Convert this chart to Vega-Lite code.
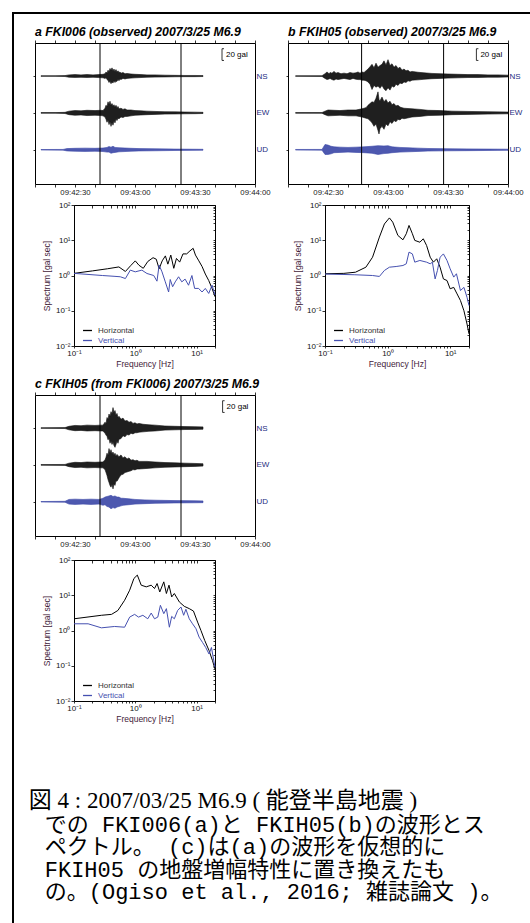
{
"$schema": "https://vega.github.io/schema/vega-lite/v6.json",
"padding": {"left": 10, "top": 10, "right": 0, "bottom": 0},
"background": "white",
"config": {
 "view": {"stroke": null},
 "axis": {"domainColor": "#000", "tickColor": "#000", "labelColor": "#111", "grid": false, "labelFont": "Liberation Sans", "titleFont": "Liberation Sans", "domainWidth": 1, "tickWidth": 0.8},
 "title": {"font": "Liberation Sans", "color": "#000"},
 "legend": {"labelFont": "Liberation Sans"}
},
"datasets": {
 "wave": [
 {"p":"a","c":"NS","t":13,"h":0.5,"l":-0.5},{"p":"a","c":"NS","t":20,"h":0.5,"l":-0.5},{"p":"a","c":"NS","t":25,"h":0.8,"l":-0.8},{"p":"a","c":"NS","t":27,"h":2,"l":-2},{"p":"a","c":"NS","t":30,"h":2.5,"l":-2.3},{"p":"a","c":"NS","t":33,"h":2,"l":-2.2},{"p":"a","c":"NS","t":36,"h":2.6,"l":-2.4},{"p":"a","c":"NS","t":39,"h":2,"l":-2.1},{"p":"a","c":"NS","t":42,"h":2.5,"l":-2.6},{"p":"a","c":"NS","t":44,"h":3,"l":-3},{"p":"a","c":"NS","t":45,"h":4,"l":-4},{"p":"a","c":"NS","t":45.5,"h":7,"l":-3},{"p":"a","c":"NS","t":46,"h":5,"l":-6},{"p":"a","c":"NS","t":46.5,"h":10,"l":-7},{"p":"a","c":"NS","t":47,"h":8,"l":-11},{"p":"a","c":"NS","t":47.5,"h":13,"l":-9},{"p":"a","c":"NS","t":48,"h":10,"l":-13},{"p":"a","c":"NS","t":48.5,"h":14,"l":-10},{"p":"a","c":"NS","t":49,"h":9,"l":-12},{"p":"a","c":"NS","t":49.5,"h":12,"l":-8},{"p":"a","c":"NS","t":50,"h":8,"l":-11},{"p":"a","c":"NS","t":50.5,"h":11,"l":-9},{"p":"a","c":"NS","t":51,"h":7,"l":-9},{"p":"a","c":"NS","t":51.5,"h":9,"l":-6},{"p":"a","c":"NS","t":52,"h":6,"l":-8},{"p":"a","c":"NS","t":52.5,"h":7,"l":-5},{"p":"a","c":"NS","t":53,"h":5,"l":-6},{"p":"a","c":"NS","t":54,"h":6,"l":-4},{"p":"a","c":"NS","t":55,"h":4,"l":-5},{"p":"a","c":"NS","t":56,"h":4.5,"l":-4},{"p":"a","c":"NS","t":58,"h":3.5,"l":-3.5},{"p":"a","c":"NS","t":60,"h":3,"l":-3},{"p":"a","c":"NS","t":63,"h":2.5,"l":-2.5},{"p":"a","c":"NS","t":66,"h":2,"l":-2},{"p":"a","c":"NS","t":70,"h":2,"l":-1.8},{"p":"a","c":"NS","t":75,"h":1.5,"l":-1.5},{"p":"a","c":"NS","t":80,"h":1.2,"l":-1.2},{"p":"a","c":"NS","t":85,"h":1,"l":-1},{"p":"a","c":"NS","t":90,"h":1,"l":-1},{"p":"a","c":"NS","t":94,"h":0.8,"l":-0.8},
 {"p":"a","c":"EW","t":13,"h":-62.5,"l":-63.5},{"p":"a","c":"EW","t":20,"h":-62.5,"l":-63.5},{"p":"a","c":"EW","t":25,"h":-62,"l":-64},{"p":"a","c":"EW","t":27,"h":-60,"l":-66},{"p":"a","c":"EW","t":30,"h":-59,"l":-67},{"p":"a","c":"EW","t":33,"h":-59.5,"l":-66.5},{"p":"a","c":"EW","t":36,"h":-58.5,"l":-67.5},{"p":"a","c":"EW","t":40,"h":-59,"l":-67},{"p":"a","c":"EW","t":43,"h":-58.5,"l":-67.5},{"p":"a","c":"EW","t":44,"h":-59,"l":-68},{"p":"a","c":"EW","t":45,"h":-55,"l":-70},{"p":"a","c":"EW","t":45.5,"h":-50,"l":-74},{"p":"a","c":"EW","t":46,"h":-52,"l":-79},{"p":"a","c":"EW","t":46.5,"h":-44,"l":-75},{"p":"a","c":"EW","t":47,"h":-48,"l":-83},{"p":"a","c":"EW","t":47.5,"h":-43,"l":-78},{"p":"a","c":"EW","t":48,"h":-50,"l":-86},{"p":"a","c":"EW","t":48.5,"h":-47,"l":-80},{"p":"a","c":"EW","t":49,"h":-51,"l":-84},{"p":"a","c":"EW","t":49.5,"h":-49,"l":-77},{"p":"a","c":"EW","t":50,"h":-53,"l":-80},{"p":"a","c":"EW","t":50.5,"h":-50,"l":-74},{"p":"a","c":"EW","t":51,"h":-54,"l":-76},{"p":"a","c":"EW","t":51.5,"h":-52,"l":-72},{"p":"a","c":"EW","t":52,"h":-56,"l":-73},{"p":"a","c":"EW","t":53,"h":-55,"l":-70},{"p":"a","c":"EW","t":54,"h":-57,"l":-71},{"p":"a","c":"EW","t":55,"h":-56,"l":-69},{"p":"a","c":"EW","t":56,"h":-58,"l":-69},{"p":"a","c":"EW","t":58,"h":-58,"l":-68},{"p":"a","c":"EW","t":60,"h":-59,"l":-67},{"p":"a","c":"EW","t":63,"h":-59.5,"l":-66.5},{"p":"a","c":"EW","t":66,"h":-60,"l":-66},{"p":"a","c":"EW","t":70,"h":-60.5,"l":-65.5},{"p":"a","c":"EW","t":75,"h":-61,"l":-65},{"p":"a","c":"EW","t":80,"h":-61.2,"l":-64.8},{"p":"a","c":"EW","t":85,"h":-61.5,"l":-64.5},{"p":"a","c":"EW","t":90,"h":-61.7,"l":-64.3},{"p":"a","c":"EW","t":94,"h":-62,"l":-64},
 {"p":"a","c":"UD","t":13,"h":-125.6,"l":-126.4},{"p":"a","c":"UD","t":24,"h":-125.4,"l":-126.6},{"p":"a","c":"UD","t":26,"h":-124,"l":-128},{"p":"a","c":"UD","t":30,"h":-123.5,"l":-128.5},{"p":"a","c":"UD","t":35,"h":-123.2,"l":-128.8},{"p":"a","c":"UD","t":40,"h":-123.5,"l":-128.5},{"p":"a","c":"UD","t":44,"h":-123,"l":-129},{"p":"a","c":"UD","t":46,"h":-122,"l":-130},{"p":"a","c":"UD","t":47,"h":-120.5,"l":-130},{"p":"a","c":"UD","t":48,"h":-121.5,"l":-132},{"p":"a","c":"UD","t":49,"h":-120,"l":-131},{"p":"a","c":"UD","t":50,"h":-122,"l":-130.5},{"p":"a","c":"UD","t":52,"h":-122.5,"l":-129.5},{"p":"a","c":"UD","t":55,"h":-123,"l":-129},{"p":"a","c":"UD","t":58,"h":-123.5,"l":-128.5},{"p":"a","c":"UD","t":62,"h":-124,"l":-128},{"p":"a","c":"UD","t":70,"h":-124.3,"l":-127.7},{"p":"a","c":"UD","t":80,"h":-124.8,"l":-127.2},{"p":"a","c":"UD","t":94,"h":-125.2,"l":-126.8},
 {"p":"b","c":"NS","t":13.8,"h":0.5,"l":-0.5},{"p":"b","c":"NS","t":27,"h":0.6,"l":-0.6},{"p":"b","c":"NS","t":28.5,"h":4,"l":-4},{"p":"b","c":"NS","t":29.5,"h":7,"l":-6},{"p":"b","c":"NS","t":30.5,"h":4,"l":-5},{"p":"b","c":"NS","t":31,"h":6,"l":-4},{"p":"b","c":"NS","t":32,"h":5,"l":-6},{"p":"b","c":"NS","t":33,"h":8,"l":-7},{"p":"b","c":"NS","t":34,"h":5,"l":-5},{"p":"b","c":"NS","t":35,"h":6,"l":-6},{"p":"b","c":"NS","t":36.5,"h":4,"l":-5},{"p":"b","c":"NS","t":38,"h":5,"l":-4},{"p":"b","c":"NS","t":39.5,"h":4,"l":-5},{"p":"b","c":"NS","t":41,"h":6,"l":-6},{"p":"b","c":"NS","t":42.5,"h":5,"l":-4},{"p":"b","c":"NS","t":44,"h":5.5,"l":-5.5},{"p":"b","c":"NS","t":45,"h":7,"l":-6},{"p":"b","c":"NS","t":46,"h":5,"l":-6},{"p":"b","c":"NS","t":47,"h":7,"l":-7},{"p":"b","c":"NS","t":48,"h":6,"l":-7},{"p":"b","c":"NS","t":49,"h":9,"l":-8},{"p":"b","c":"NS","t":50,"h":12,"l":-10},{"p":"b","c":"NS","t":51,"h":16,"l":-14},{"p":"b","c":"NS","t":52,"h":20,"l":-23},{"p":"b","c":"NS","t":53,"h":14,"l":-16},{"p":"b","c":"NS","t":54,"h":22,"l":-19},{"p":"b","c":"NS","t":55,"h":15,"l":-17},{"p":"b","c":"NS","t":56,"h":18,"l":-21},{"p":"b","c":"NS","t":57,"h":20,"l":-16},{"p":"b","c":"NS","t":58,"h":26,"l":-22},{"p":"b","c":"NS","t":59,"h":19,"l":-25},{"p":"b","c":"NS","t":60,"h":28,"l":-20},{"p":"b","c":"NS","t":61,"h":18,"l":-24},{"p":"b","c":"NS","t":62,"h":21,"l":-17},{"p":"b","c":"NS","t":63,"h":15,"l":-19},{"p":"b","c":"NS","t":64,"h":18,"l":-14},{"p":"b","c":"NS","t":65,"h":13,"l":-16},{"p":"b","c":"NS","t":66,"h":15,"l":-12},{"p":"b","c":"NS","t":67,"h":10,"l":-13},{"p":"b","c":"NS","t":68,"h":12,"l":-10},{"p":"b","c":"NS","t":69,"h":9,"l":-11},{"p":"b","c":"NS","t":70,"h":10,"l":-8},{"p":"b","c":"NS","t":71,"h":7,"l":-9},{"p":"b","c":"NS","t":72,"h":8,"l":-7},{"p":"b","c":"NS","t":75,"h":6.5,"l":-6.5},{"p":"b","c":"NS","t":78,"h":5.5,"l":-5.5},{"p":"b","c":"NS","t":82,"h":4.5,"l":-4.5},{"p":"b","c":"NS","t":86,"h":4,"l":-4},{"p":"b","c":"NS","t":90,"h":3.5,"l":-3.5},{"p":"b","c":"NS","t":95,"h":3,"l":-3},{"p":"b","c":"NS","t":100,"h":2.5,"l":-2.5},{"p":"b","c":"NS","t":105,"h":2.5,"l":-2.5},{"p":"b","c":"NS","t":110,"h":2,"l":-2},{"p":"b","c":"NS","t":115,"h":2,"l":-2},{"p":"b","c":"NS","t":120,"h":1.5,"l":-1.5},
 {"p":"b","c":"EW","t":13.8,"h":-62.5,"l":-63.5},{"p":"b","c":"EW","t":27,"h":-62.4,"l":-63.6},{"p":"b","c":"EW","t":28.5,"h":-60,"l":-66},{"p":"b","c":"EW","t":30,"h":-58,"l":-68},{"p":"b","c":"EW","t":33,"h":-58.5,"l":-67.5},{"p":"b","c":"EW","t":36,"h":-59,"l":-67},{"p":"b","c":"EW","t":40,"h":-58,"l":-68},{"p":"b","c":"EW","t":44,"h":-58,"l":-68},{"p":"b","c":"EW","t":47,"h":-56,"l":-70},{"p":"b","c":"EW","t":49,"h":-54,"l":-72},{"p":"b","c":"EW","t":50,"h":-50,"l":-73},{"p":"b","c":"EW","t":51,"h":-47,"l":-76},{"p":"b","c":"EW","t":52,"h":-44,"l":-80},{"p":"b","c":"EW","t":53,"h":-45,"l":-86},{"p":"b","c":"EW","t":54,"h":-38,"l":-82},{"p":"b","c":"EW","t":55,"h":-27,"l":-93},{"p":"b","c":"EW","t":55.5,"h":-40,"l":-99},{"p":"b","c":"EW","t":56,"h":-42,"l":-90},{"p":"b","c":"EW","t":57,"h":-36,"l":-86},{"p":"b","c":"EW","t":58,"h":-44,"l":-91},{"p":"b","c":"EW","t":59,"h":-40,"l":-82},{"p":"b","c":"EW","t":60,"h":-46,"l":-85},{"p":"b","c":"EW","t":61,"h":-43,"l":-78},{"p":"b","c":"EW","t":62,"h":-49,"l":-81},{"p":"b","c":"EW","t":63,"h":-47,"l":-76},{"p":"b","c":"EW","t":64,"h":-51,"l":-78},{"p":"b","c":"EW","t":65,"h":-50,"l":-74},{"p":"b","c":"EW","t":66,"h":-53,"l":-75},{"p":"b","c":"EW","t":67,"h":-54,"l":-72},{"p":"b","c":"EW","t":68,"h":-55,"l":-73},{"p":"b","c":"EW","t":72,"h":-56,"l":-70},{"p":"b","c":"EW","t":76,"h":-57,"l":-69},{"p":"b","c":"EW","t":80,"h":-58.5,"l":-67.5},{"p":"b","c":"EW","t":86,"h":-59,"l":-67},{"p":"b","c":"EW","t":92,"h":-60,"l":-66},{"p":"b","c":"EW","t":100,"h":-60.5,"l":-65.5},{"p":"b","c":"EW","t":110,"h":-61,"l":-65},{"p":"b","c":"EW","t":120,"h":-61.5,"l":-64.5},
 {"p":"b","c":"UD","t":13.8,"h":-125.5,"l":-126.5},{"p":"b","c":"UD","t":27,"h":-125.4,"l":-126.6},{"p":"b","c":"UD","t":28.5,"h":-117,"l":-134},{"p":"b","c":"UD","t":30,"h":-118,"l":-134},{"p":"b","c":"UD","t":31.5,"h":-120,"l":-133},{"p":"b","c":"UD","t":33,"h":-121,"l":-131},{"p":"b","c":"UD","t":36,"h":-121.5,"l":-130.5},{"p":"b","c":"UD","t":40,"h":-122,"l":-130},{"p":"b","c":"UD","t":44,"h":-121.5,"l":-130.5},{"p":"b","c":"UD","t":48,"h":-121,"l":-131},{"p":"b","c":"UD","t":52,"h":-120,"l":-132},{"p":"b","c":"UD","t":55,"h":-119,"l":-134},{"p":"b","c":"UD","t":58,"h":-119.5,"l":-132.5},{"p":"b","c":"UD","t":60,"h":-119,"l":-132},{"p":"b","c":"UD","t":62,"h":-121,"l":-131},{"p":"b","c":"UD","t":66,"h":-122,"l":-130},{"p":"b","c":"UD","t":70,"h":-122.5,"l":-129.5},{"p":"b","c":"UD","t":75,"h":-123.2,"l":-128.8},{"p":"b","c":"UD","t":80,"h":-123.8,"l":-128.2},{"p":"b","c":"UD","t":90,"h":-124.2,"l":-127.8},{"p":"b","c":"UD","t":100,"h":-124.5,"l":-127.5},{"p":"b","c":"UD","t":110,"h":-124.8,"l":-127.2},{"p":"b","c":"UD","t":120,"h":-125,"l":-127},
 {"p":"c","c":"NS","t":13,"h":0.5,"l":-0.5},{"p":"c","c":"NS","t":25,"h":0.8,"l":-0.8},{"p":"c","c":"NS","t":27,"h":3,"l":-3},{"p":"c","c":"NS","t":30,"h":4.5,"l":-4.5},{"p":"c","c":"NS","t":33,"h":4,"l":-4},{"p":"c","c":"NS","t":36,"h":5,"l":-5},{"p":"c","c":"NS","t":40,"h":4.5,"l":-4.5},{"p":"c","c":"NS","t":43,"h":5,"l":-5},{"p":"c","c":"NS","t":44,"h":5,"l":-5},{"p":"c","c":"NS","t":45,"h":10,"l":-9},{"p":"c","c":"NS","t":45.5,"h":8,"l":-12},{"p":"c","c":"NS","t":46,"h":18,"l":-14},{"p":"c","c":"NS","t":46.5,"h":15,"l":-20},{"p":"c","c":"NS","t":47,"h":24,"l":-18},{"p":"c","c":"NS","t":47.5,"h":20,"l":-26},{"p":"c","c":"NS","t":48,"h":28,"l":-22},{"p":"c","c":"NS","t":48.5,"h":24,"l":-28},{"p":"c","c":"NS","t":49,"h":35,"l":-24},{"p":"c","c":"NS","t":49.5,"h":26,"l":-30},{"p":"c","c":"NS","t":50,"h":30,"l":-33},{"p":"c","c":"NS","t":50.5,"h":22,"l":-28},{"p":"c","c":"NS","t":51,"h":25,"l":-22},{"p":"c","c":"NS","t":51.5,"h":18,"l":-26},{"p":"c","c":"NS","t":52,"h":20,"l":-19},{"p":"c","c":"NS","t":53,"h":15,"l":-18},{"p":"c","c":"NS","t":54,"h":17,"l":-13},{"p":"c","c":"NS","t":55,"h":12,"l":-15},{"p":"c","c":"NS","t":56,"h":13,"l":-11},{"p":"c","c":"NS","t":57,"h":10,"l":-12},{"p":"c","c":"NS","t":58,"h":11,"l":-9},{"p":"c","c":"NS","t":59,"h":8,"l":-10},{"p":"c","c":"NS","t":60,"h":9,"l":-8},{"p":"c","c":"NS","t":61,"h":7,"l":-8},{"p":"c","c":"NS","t":62,"h":8,"l":-7},{"p":"c","c":"NS","t":64,"h":6.5,"l":-6.5},{"p":"c","c":"NS","t":67,"h":5.5,"l":-5.5},{"p":"c","c":"NS","t":70,"h":5,"l":-5},{"p":"c","c":"NS","t":75,"h":3.5,"l":-3.5},{"p":"c","c":"NS","t":80,"h":3,"l":-3},{"p":"c","c":"NS","t":85,"h":2.5,"l":-2.5},{"p":"c","c":"NS","t":90,"h":2.3,"l":-2.3},{"p":"c","c":"NS","t":94,"h":2,"l":-2},
 {"p":"c","c":"EW","t":13,"h":-62.5,"l":-63.5},{"p":"c","c":"EW","t":25,"h":-62.2,"l":-63.8},{"p":"c","c":"EW","t":27,"h":-60,"l":-66},{"p":"c","c":"EW","t":30,"h":-58.5,"l":-67.5},{"p":"c","c":"EW","t":33,"h":-59,"l":-67},{"p":"c","c":"EW","t":36,"h":-58,"l":-68},{"p":"c","c":"EW","t":40,"h":-58.5,"l":-67.5},{"p":"c","c":"EW","t":43,"h":-58,"l":-68},{"p":"c","c":"EW","t":44,"h":-58,"l":-68},{"p":"c","c":"EW","t":45,"h":-54,"l":-71},{"p":"c","c":"EW","t":45.5,"h":-50,"l":-76},{"p":"c","c":"EW","t":46,"h":-43,"l":-81},{"p":"c","c":"EW","t":46.5,"h":-47,"l":-88},{"p":"c","c":"EW","t":47,"h":-35,"l":-93},{"p":"c","c":"EW","t":47.5,"h":-42,"l":-98},{"p":"c","c":"EW","t":48,"h":-37,"l":-101},{"p":"c","c":"EW","t":48.5,"h":-44,"l":-96},{"p":"c","c":"EW","t":49,"h":-41,"l":-104},{"p":"c","c":"EW","t":49.5,"h":-46,"l":-95},{"p":"c","c":"EW","t":50,"h":-43,"l":-98},{"p":"c","c":"EW","t":50.5,"h":-48,"l":-90},{"p":"c","c":"EW","t":51,"h":-45,"l":-91},{"p":"c","c":"EW","t":52,"h":-49,"l":-85},{"p":"c","c":"EW","t":53,"h":-46,"l":-80},{"p":"c","c":"EW","t":54,"h":-51,"l":-79},{"p":"c","c":"EW","t":55,"h":-49,"l":-76},{"p":"c","c":"EW","t":56,"h":-53,"l":-75},{"p":"c","c":"EW","t":57,"h":-51,"l":-74},{"p":"c","c":"EW","t":58,"h":-55,"l":-73},{"p":"c","c":"EW","t":59,"h":-54,"l":-71},{"p":"c","c":"EW","t":60,"h":-56,"l":-71.5},{"p":"c","c":"EW","t":61,"h":-55,"l":-70},{"p":"c","c":"EW","t":62,"h":-57,"l":-70},{"p":"c","c":"EW","t":66,"h":-57,"l":-69},{"p":"c","c":"EW","t":70,"h":-58,"l":-68},{"p":"c","c":"EW","t":75,"h":-59,"l":-67},{"p":"c","c":"EW","t":80,"h":-59.5,"l":-66.5},{"p":"c","c":"EW","t":85,"h":-60,"l":-66},{"p":"c","c":"EW","t":90,"h":-60.5,"l":-65.5},{"p":"c","c":"EW","t":94,"h":-61,"l":-65},
 {"p":"c","c":"UD","t":13,"h":-125.6,"l":-126.4},{"p":"c","c":"UD","t":25,"h":-125.2,"l":-126.8},{"p":"c","c":"UD","t":27,"h":-122,"l":-130},{"p":"c","c":"UD","t":30,"h":-121.5,"l":-130.5},{"p":"c","c":"UD","t":34,"h":-122,"l":-130},{"p":"c","c":"UD","t":38,"h":-121.5,"l":-130.5},{"p":"c","c":"UD","t":42,"h":-122,"l":-130},{"p":"c","c":"UD","t":44,"h":-120,"l":-132},{"p":"c","c":"UD","t":45,"h":-118,"l":-131},{"p":"c","c":"UD","t":46,"h":-117,"l":-134},{"p":"c","c":"UD","t":47,"h":-116,"l":-135},{"p":"c","c":"UD","t":48,"h":-115,"l":-138},{"p":"c","c":"UD","t":49,"h":-117,"l":-136},{"p":"c","c":"UD","t":50,"h":-116,"l":-137},{"p":"c","c":"UD","t":51,"h":-118,"l":-135},{"p":"c","c":"UD","t":52,"h":-118,"l":-134},{"p":"c","c":"UD","t":53,"h":-120,"l":-133},{"p":"c","c":"UD","t":54,"h":-120,"l":-132},{"p":"c","c":"UD","t":57,"h":-121,"l":-131},{"p":"c","c":"UD","t":60,"h":-122,"l":-130},{"p":"c","c":"UD","t":65,"h":-122.8,"l":-129.2},{"p":"c","c":"UD","t":70,"h":-123.3,"l":-128.7},{"p":"c","c":"UD","t":80,"h":-124,"l":-128},{"p":"c","c":"UD","t":90,"h":-124.3,"l":-127.7},{"p":"c","c":"UD","t":94,"h":-124.5,"l":-127.5}
 ],
 "vl": [{"p":"a","t":42.5},{"p":"a","t":83},{"p":"b","t":46.8},{"p":"b","t":87.8},{"p":"c","t":42.5},{"p":"c","t":83}],
 "bar": [{"p":"a","t":103.5,"t2":104.5,"lo":26.7,"hi":46.7,"m":36.7},{"p":"b","t":104.2,"t2":105.2,"lo":26.7,"hi":46.7,"m":36.7},{"p":"c","t":103.8,"t2":104.8,"lo":26.7,"hi":46.7,"m":36.7}],
 "spec": [
 {"p":"a","k":"Horizontal","f":0.1,"v":1.15},{"p":"a","k":"Horizontal","f":0.2,"v":1.35},{"p":"a","k":"Horizontal","f":0.35,"v":1.55},{"p":"a","k":"Horizontal","f":0.54,"v":1.75},{"p":"a","k":"Horizontal","f":0.69,"v":1.3},{"p":"a","k":"Horizontal","f":0.84,"v":1.9},{"p":"a","k":"Horizontal","f":1.0,"v":2.6},{"p":"a","k":"Horizontal","f":1.15,"v":1.95},{"p":"a","k":"Horizontal","f":1.35,"v":1.6},{"p":"a","k":"Horizontal","f":1.6,"v":2.5},{"p":"a","k":"Horizontal","f":1.95,"v":3.2},{"p":"a","k":"Horizontal","f":2.2,"v":2.9},{"p":"a","k":"Horizontal","f":2.45,"v":1.55},{"p":"a","k":"Horizontal","f":2.75,"v":2.6},{"p":"a","k":"Horizontal","f":3.1,"v":3.6},{"p":"a","k":"Horizontal","f":3.4,"v":2.1},{"p":"a","k":"Horizontal","f":3.8,"v":3.8},{"p":"a","k":"Horizontal","f":4.25,"v":1.6},{"p":"a","k":"Horizontal","f":4.7,"v":3.05},{"p":"a","k":"Horizontal","f":5.3,"v":2.4},{"p":"a","k":"Horizontal","f":6.0,"v":4.1},{"p":"a","k":"Horizontal","f":6.9,"v":4.1},{"p":"a","k":"Horizontal","f":7.8,"v":5.0},{"p":"a","k":"Horizontal","f":8.8,"v":5.9},{"p":"a","k":"Horizontal","f":9.6,"v":3.8},{"p":"a","k":"Horizontal","f":10.9,"v":2.6},{"p":"a","k":"Horizontal","f":12.3,"v":1.8},{"p":"a","k":"Horizontal","f":13.9,"v":1.1},{"p":"a","k":"Horizontal","f":15.8,"v":0.72},{"p":"a","k":"Horizontal","f":17.9,"v":0.43},{"p":"a","k":"Horizontal","f":20,"v":0.25},
 {"p":"a","k":"Vertical","f":0.1,"v":1.15},{"p":"a","k":"Vertical","f":0.29,"v":1.0},{"p":"a","k":"Vertical","f":0.45,"v":0.95},{"p":"a","k":"Vertical","f":0.57,"v":0.92},{"p":"a","k":"Vertical","f":0.69,"v":0.82},{"p":"a","k":"Vertical","f":0.83,"v":1.42},{"p":"a","k":"Vertical","f":1.0,"v":1.27},{"p":"a","k":"Vertical","f":1.28,"v":1.42},{"p":"a","k":"Vertical","f":1.55,"v":1.14},{"p":"a","k":"Vertical","f":2.0,"v":1.0},{"p":"a","k":"Vertical","f":2.26,"v":0.69},{"p":"a","k":"Vertical","f":2.45,"v":1.97},{"p":"a","k":"Vertical","f":2.73,"v":1.27},{"p":"a","k":"Vertical","f":3.09,"v":0.66},{"p":"a","k":"Vertical","f":3.5,"v":0.34},{"p":"a","k":"Vertical","f":3.72,"v":0.77},{"p":"a","k":"Vertical","f":4.07,"v":0.48},{"p":"a","k":"Vertical","f":4.49,"v":0.66},{"p":"a","k":"Vertical","f":5.09,"v":0.92},{"p":"a","k":"Vertical","f":5.75,"v":0.66},{"p":"a","k":"Vertical","f":6.5,"v":0.79},{"p":"a","k":"Vertical","f":7.4,"v":0.53},{"p":"a","k":"Vertical","f":8.4,"v":1.0},{"p":"a","k":"Vertical","f":9.3,"v":0.43},{"p":"a","k":"Vertical","f":10.8,"v":0.43},{"p":"a","k":"Vertical","f":12.3,"v":0.34},{"p":"a","k":"Vertical","f":13.9,"v":0.43},{"p":"a","k":"Vertical","f":15.8,"v":0.31},{"p":"a","k":"Vertical","f":17.9,"v":0.53},{"p":"a","k":"Vertical","f":20,"v":0.28},
 {"p":"b","k":"Horizontal","f":0.1,"v":1.12},{"p":"b","k":"Horizontal","f":0.2,"v":1.15},{"p":"b","k":"Horizontal","f":0.307,"v":1.24},{"p":"b","k":"Horizontal","f":0.45,"v":1.72},{"p":"b","k":"Horizontal","f":0.575,"v":3.3},{"p":"b","k":"Horizontal","f":0.74,"v":12.3},{"p":"b","k":"Horizontal","f":0.89,"v":29},{"p":"b","k":"Horizontal","f":1.07,"v":43},{"p":"b","k":"Horizontal","f":1.21,"v":32.6},{"p":"b","k":"Horizontal","f":1.46,"v":13.7},{"p":"b","k":"Horizontal","f":1.76,"v":10.3},{"p":"b","k":"Horizontal","f":1.99,"v":15.3},{"p":"b","k":"Horizontal","f":2.2,"v":26.3},{"p":"b","k":"Horizontal","f":2.49,"v":15.3},{"p":"b","k":"Horizontal","f":2.72,"v":9.9},{"p":"b","k":"Horizontal","f":3.28,"v":8.8},{"p":"b","k":"Horizontal","f":3.72,"v":11},{"p":"b","k":"Horizontal","f":4.2,"v":7.1},{"p":"b","k":"Horizontal","f":4.8,"v":3.3},{"p":"b","k":"Horizontal","f":5.4,"v":2.39},{"p":"b","k":"Horizontal","f":6.1,"v":2.98},{"p":"b","k":"Horizontal","f":6.9,"v":1.72},{"p":"b","k":"Horizontal","f":7.8,"v":0.8},{"p":"b","k":"Horizontal","f":8.9,"v":0.72},{"p":"b","k":"Horizontal","f":10,"v":0.42},{"p":"b","k":"Horizontal","f":11.4,"v":0.46},{"p":"b","k":"Horizontal","f":12.9,"v":0.3},{"p":"b","k":"Horizontal","f":14.6,"v":0.195},{"p":"b","k":"Horizontal","f":16.6,"v":0.1},{"p":"b","k":"Horizontal","f":18.6,"v":0.042},{"p":"b","k":"Horizontal","f":20,"v":0.022},
 {"p":"b","k":"Vertical","f":0.1,"v":1.1},{"p":"b","k":"Vertical","f":0.3,"v":1.05},{"p":"b","k":"Vertical","f":0.575,"v":1.0},{"p":"b","k":"Vertical","f":0.74,"v":0.94},{"p":"b","k":"Vertical","f":0.89,"v":1.39},{"p":"b","k":"Vertical","f":1.07,"v":1.72},{"p":"b","k":"Vertical","f":1.37,"v":1.8},{"p":"b","k":"Vertical","f":1.76,"v":1.92},{"p":"b","k":"Vertical","f":1.99,"v":2.15},{"p":"b","k":"Vertical","f":2.2,"v":4.6},{"p":"b","k":"Vertical","f":2.49,"v":4.1},{"p":"b","k":"Vertical","f":2.72,"v":2.39},{"p":"b","k":"Vertical","f":3.28,"v":2.67},{"p":"b","k":"Vertical","f":4.2,"v":2.39},{"p":"b","k":"Vertical","f":4.8,"v":2.15},{"p":"b","k":"Vertical","f":5.2,"v":2.39},{"p":"b","k":"Vertical","f":5.75,"v":0.8},{"p":"b","k":"Vertical","f":6.26,"v":1.39},{"p":"b","k":"Vertical","f":6.9,"v":3.3},{"p":"b","k":"Vertical","f":7.8,"v":4.1},{"p":"b","k":"Vertical","f":8.9,"v":2.67},{"p":"b","k":"Vertical","f":10,"v":1.55},{"p":"b","k":"Vertical","f":11.4,"v":0.9},{"p":"b","k":"Vertical","f":12.6,"v":1.12},{"p":"b","k":"Vertical","f":14.6,"v":0.375},{"p":"b","k":"Vertical","f":16.6,"v":0.46},{"p":"b","k":"Vertical","f":18.6,"v":0.24},{"p":"b","k":"Vertical","f":20,"v":0.14},
 {"p":"c","k":"Horizontal","f":0.1,"v":2.15},{"p":"c","k":"Horizontal","f":0.28,"v":2.7},{"p":"c","k":"Horizontal","f":0.41,"v":2.87},{"p":"c","k":"Horizontal","f":0.52,"v":3.7},{"p":"c","k":"Horizontal","f":0.67,"v":7.2},{"p":"c","k":"Horizontal","f":0.81,"v":13.9},{"p":"c","k":"Horizontal","f":0.95,"v":29.9},{"p":"c","k":"Horizontal","f":1.08,"v":37.3},{"p":"c","k":"Horizontal","f":1.25,"v":19.3},{"p":"c","k":"Horizontal","f":1.51,"v":17.3},{"p":"c","k":"Horizontal","f":1.82,"v":19.3},{"p":"c","k":"Horizontal","f":2.06,"v":15.5},{"p":"c","k":"Horizontal","f":2.27,"v":21.5},{"p":"c","k":"Horizontal","f":2.51,"v":12.4},{"p":"c","k":"Horizontal","f":2.92,"v":24},{"p":"c","k":"Horizontal","f":3.22,"v":11.2},{"p":"c","k":"Horizontal","f":3.55,"v":19.3},{"p":"c","k":"Horizontal","f":3.93,"v":8.96},{"p":"c","k":"Horizontal","f":4.34,"v":11.2},{"p":"c","k":"Horizontal","f":5.24,"v":6.45},{"p":"c","k":"Horizontal","f":6.3,"v":4.85},{"p":"c","k":"Horizontal","f":7.6,"v":4.17},{"p":"c","k":"Horizontal","f":8.9,"v":3.57},{"p":"c","k":"Horizontal","f":10.4,"v":1.73},{"p":"c","k":"Horizontal","f":11.8,"v":1.0},{"p":"c","k":"Horizontal","f":13.6,"v":0.52},{"p":"c","k":"Horizontal","f":16,"v":0.27},{"p":"c","k":"Horizontal","f":18.2,"v":0.14},{"p":"c","k":"Horizontal","f":20,"v":0.08},
 {"p":"c","k":"Vertical","f":0.1,"v":1.55},{"p":"c","k":"Vertical","f":0.17,"v":1.55},{"p":"c","k":"Vertical","f":0.28,"v":1.19},{"p":"c","k":"Vertical","f":0.46,"v":1.3},{"p":"c","k":"Vertical","f":0.67,"v":1.24},{"p":"c","k":"Vertical","f":0.81,"v":2.4},{"p":"c","k":"Vertical","f":0.975,"v":2.87},{"p":"c","k":"Vertical","f":1.13,"v":2.4},{"p":"c","k":"Vertical","f":1.33,"v":2.7},{"p":"c","k":"Vertical","f":1.6,"v":2.15},{"p":"c","k":"Vertical","f":1.82,"v":3.13},{"p":"c","k":"Vertical","f":2.06,"v":2.15},{"p":"c","k":"Vertical","f":2.33,"v":2.4},{"p":"c","k":"Vertical","f":2.57,"v":5.18},{"p":"c","k":"Vertical","f":2.92,"v":3.0},{"p":"c","k":"Vertical","f":3.22,"v":4.17},{"p":"c","k":"Vertical","f":3.6,"v":1.24},{"p":"c","k":"Vertical","f":3.93,"v":2.51},{"p":"c","k":"Vertical","f":4.34,"v":2.15},{"p":"c","k":"Vertical","f":4.92,"v":3.72},{"p":"c","k":"Vertical","f":5.57,"v":4.64},{"p":"c","k":"Vertical","f":6.16,"v":2.7},{"p":"c","k":"Vertical","f":6.7,"v":4.0},{"p":"c","k":"Vertical","f":7.6,"v":2.15},{"p":"c","k":"Vertical","f":8.6,"v":1.55},{"p":"c","k":"Vertical","f":9.8,"v":1.12},{"p":"c","k":"Vertical","f":11,"v":0.65},{"p":"c","k":"Vertical","f":12.5,"v":0.46},{"p":"c","k":"Vertical","f":14.1,"v":0.33},{"p":"c","k":"Vertical","f":16,"v":0.215},{"p":"c","k":"Vertical","f":17.5,"v":0.33},{"p":"c","k":"Vertical","f":20,"v":0.09}
 ]
},
"bounds": "flush",
"spacing": 0,
"resolve": {"scale": {"color": "independent"}, "legend": {"color": "independent"}},
"hconcat": [
 {"width": 2, "height": 915, "data": {"values": [{}]}, "mark": {"type": "point", "opacity": 0}, "view": {"fill": "#000", "stroke": null}},
 {
  "bounds": "flush",
  "spacing": 0,
  "resolve": {"scale": {"color": "independent"}, "legend": {"color": "independent"}},
  "title": {
   "text": "図 4 : 2007/03/25 M6.9 ( 能登半島地震 )",
   "subtitle": ["\u2800での FKI006(a)と FKIH05(b)の波形とス", "\u2800ペクトル。 (c)は(a)の波形を仮想的に", "\u2800FKIH05 の地盤増幅特性に置き換えたも", "\u2800の。(Ogiso et al., 2016; 雑誌論文 )。"],
   "orient": "bottom", "anchor": "start", "frame": "bounds", "dx": 17, "offset": 67,
   "font": "Liberation Serif, Noto Sans CJK JP", "fontSize": 23, "fontWeight": "normal", "color": "#000",
   "subtitleFont": "Liberation Mono, DejaVu Sans Mono, Noto Sans CJK JP", "subtitleFontSize": 22, "subtitleFontWeight": "normal", "subtitleColor": "#000", "subtitleLineHeight": 22.6, "subtitlePadding": 2
  },
  "vconcat": [
   {"width": 518, "height": 2, "data": {"values": [{}]}, "mark": {"type": "point", "opacity": 0}, "view": {"fill": "#000", "stroke": null}},
   {"width": 1, "height": 29, "data": {"values": [{}]}, "mark": {"type": "point", "opacity": 0}},
   {"bounds": "flush", "spacing": 0, "hconcat": [
     {"width": 21, "height": 1, "data": {"values": [{}]}, "mark": {"type": "point", "opacity": 0}},
     {"width": 220, "height": 141,
      "title": {"text": "a  FKI006 (observed) 2007/3/25 M6.9", "anchor": "start", "frame": "group", "fontSize": 12.3, "fontStyle": "italic", "fontWeight": "bold", "offset": 1},
      "resolve": {"axis": {"x": "independent", "y": "independent"}},
      "layer": [
       {"data": {"name": "wave"}, "transform": [{"filter": "datum.p == 'a' && datum.c != 'UD'"}],
        "mark": {"type": "area", "fill": "#000", "fillOpacity": 0.88, "stroke": "#111", "strokeWidth": 0.6},
        "encoding": {
         "x": {"field": "t", "type": "quantitative", "scale": {"domain": [10, 120], "nice": false, "zero": false}, "axis": {"orient": "bottom", "values": [10,20,30,40,50,60,70,80,90,100,110,120], "labelExpr": "datum.value==30?'09:42:30':datum.value==60?'09:43:00':datum.value==90?'09:43:30':datum.value==120?'09:44:00':''", "tickSize": 3, "labelPadding": 1, "labelFontSize": 7.8, "labelFlush": false, "labelOverlap": false, "labelColor": "#222", "title": null}},
         "y": {"field": "h", "type": "quantitative", "stack": null, "scale": {"domain": [-184.5, 56.5], "nice": false, "zero": false}, "axis": {"orient": "left", "values": [0, -63, -126], "labels": false, "tickSize": 2, "title": null}},
         "y2": {"field": "l"},
         "detail": {"field": "c"}
        }},
       {"data": {"name": "wave"}, "transform": [{"filter": "datum.p == 'a' && datum.c == 'UD'"}],
        "mark": {"type": "area", "fill": "#3a46a6", "fillOpacity": 0.9, "stroke": "#3a46a6", "strokeWidth": 0.6},
        "encoding": {
         "x": {"field": "t", "type": "quantitative", "scale": {"domain": [10, 120], "nice": false, "zero": false}, "axis": null},
         "y": {"field": "h", "type": "quantitative", "stack": null, "scale": {"domain": [-184.5, 56.5], "nice": false, "zero": false}, "axis": null},
         "y2": {"field": "l"}
        }},
       {"data": {"name": "vl"}, "transform": [{"filter": "datum.p == 'a'"}],
        "mark": {"type": "rule", "color": "#000", "strokeWidth": 1},
        "encoding": {"x": {"field": "t", "type": "quantitative", "scale": {"domain": [10, 120], "nice": false, "zero": false}, "axis": {"orient": "top", "values": [10,20,30,40,50,60,70,80,90,100,110,120], "labels": false, "tickSize": 3, "title": null}}}},
       {"data": {"name": "bar"}, "transform": [{"filter": "datum.p == 'a'"}],
        "mark": {"type": "rule", "color": "#000", "strokeWidth": 0.8},
        "encoding": {"x": {"field": "t", "type": "quantitative", "scale": {"domain": [10, 120], "nice": false, "zero": false}, "axis": null},
         "y": {"field": "lo", "type": "quantitative", "scale": {"domain": [-184.5, 56.5], "nice": false, "zero": false}, "axis": {"orient": "right", "values": [0, -63, -126], "ticks": false, "labelExpr": "datum.value==0?'NS':datum.value==-63?'EW':'UD'", "labelPadding": 1, "labelFontSize": 8, "labelColor": "#1c2a80", "labelFlush": false, "title": null}},
         "y2": {"field": "hi"}}},
       {"data": {"name": "bar"}, "transform": [{"filter": "datum.p == 'a'"}],
        "mark": {"type": "rule", "color": "#000", "strokeWidth": 0.8},
        "encoding": {"x": {"field": "t", "type": "quantitative", "scale": {"domain": [10, 120], "nice": false, "zero": false}, "axis": null}, "x2": {"field": "t2"},
         "y": {"field": "hi", "type": "quantitative", "scale": {"domain": [-184.5, 56.5], "nice": false, "zero": false}, "axis": null}}},
       {"data": {"name": "bar"}, "transform": [{"filter": "datum.p == 'a'"}],
        "mark": {"type": "rule", "color": "#000", "strokeWidth": 0.8},
        "encoding": {"x": {"field": "t", "type": "quantitative", "scale": {"domain": [10, 120], "nice": false, "zero": false}, "axis": null}, "x2": {"field": "t2"},
         "y": {"field": "lo", "type": "quantitative", "scale": {"domain": [-184.5, 56.5], "nice": false, "zero": false}, "axis": null}}},
       {"data": {"name": "bar"}, "transform": [{"filter": "datum.p == 'a'"}],
        "mark": {"type": "text", "text": "20 gal", "align": "left", "baseline": "middle", "fontSize": 8, "font": "Liberation Sans", "dx": 2, "color": "#000"},
        "encoding": {"x": {"field": "t2", "type": "quantitative", "scale": {"domain": [10, 120], "nice": false, "zero": false}, "axis": null},
         "y": {"field": "m", "type": "quantitative", "scale": {"domain": [-184.5, 56.5], "nice": false, "zero": false}, "axis": null}}}
      ]},
     {"width": 33, "height": 1, "data": {"values": [{}]}, "mark": {"type": "point", "opacity": 0}},
     {"width": 220, "height": 141,
      "title": {"text": "b  FKIH05 (observed) 2007/3/25 M6.9", "anchor": "start", "frame": "group", "fontSize": 12.3, "fontStyle": "italic", "fontWeight": "bold", "offset": 1},
      "resolve": {"axis": {"x": "independent", "y": "independent"}},
      "layer": [
       {"data": {"name": "wave"}, "transform": [{"filter": "datum.p == 'b' && datum.c != 'UD'"}],
        "mark": {"type": "area", "fill": "#000", "fillOpacity": 0.88, "stroke": "#111", "strokeWidth": 0.6},
        "encoding": {
         "x": {"field": "t", "type": "quantitative", "scale": {"domain": [10, 120], "nice": false, "zero": false}, "axis": {"orient": "bottom", "values": [10,20,30,40,50,60,70,80,90,100,110,120], "labelExpr": "datum.value==30?'09:42:30':datum.value==60?'09:43:00':datum.value==90?'09:43:30':datum.value==120?'09:44:00':''", "tickSize": 3, "labelPadding": 1, "labelFontSize": 7.8, "labelFlush": false, "labelOverlap": false, "labelColor": "#222", "title": null}},
         "y": {"field": "h", "type": "quantitative", "stack": null, "scale": {"domain": [-184.5, 56.5], "nice": false, "zero": false}, "axis": {"orient": "left", "values": [0, -63, -126], "labels": false, "tickSize": 2, "title": null}},
         "y2": {"field": "l"},
         "detail": {"field": "c"}
        }},
       {"data": {"name": "wave"}, "transform": [{"filter": "datum.p == 'b' && datum.c == 'UD'"}],
        "mark": {"type": "area", "fill": "#3a46a6", "fillOpacity": 0.9, "stroke": "#3a46a6", "strokeWidth": 0.6},
        "encoding": {
         "x": {"field": "t", "type": "quantitative", "scale": {"domain": [10, 120], "nice": false, "zero": false}, "axis": null},
         "y": {"field": "h", "type": "quantitative", "stack": null, "scale": {"domain": [-184.5, 56.5], "nice": false, "zero": false}, "axis": null},
         "y2": {"field": "l"}
        }},
       {"data": {"name": "vl"}, "transform": [{"filter": "datum.p == 'b'"}],
        "mark": {"type": "rule", "color": "#000", "strokeWidth": 1},
        "encoding": {"x": {"field": "t", "type": "quantitative", "scale": {"domain": [10, 120], "nice": false, "zero": false}, "axis": {"orient": "top", "values": [10,20,30,40,50,60,70,80,90,100,110,120], "labels": false, "tickSize": 3, "title": null}}}},
       {"data": {"name": "bar"}, "transform": [{"filter": "datum.p == 'b'"}],
        "mark": {"type": "rule", "color": "#000", "strokeWidth": 0.8},
        "encoding": {"x": {"field": "t", "type": "quantitative", "scale": {"domain": [10, 120], "nice": false, "zero": false}, "axis": null},
         "y": {"field": "lo", "type": "quantitative", "scale": {"domain": [-184.5, 56.5], "nice": false, "zero": false}, "axis": {"orient": "right", "values": [0, -63, -126], "ticks": false, "labelExpr": "datum.value==0?'NS':datum.value==-63?'EW':'UD'", "labelPadding": 1, "labelFontSize": 8, "labelColor": "#1c2a80", "labelFlush": false, "title": null}},
         "y2": {"field": "hi"}}},
       {"data": {"name": "bar"}, "transform": [{"filter": "datum.p == 'b'"}],
        "mark": {"type": "rule", "color": "#000", "strokeWidth": 0.8},
        "encoding": {"x": {"field": "t", "type": "quantitative", "scale": {"domain": [10, 120], "nice": false, "zero": false}, "axis": null}, "x2": {"field": "t2"},
         "y": {"field": "hi", "type": "quantitative", "scale": {"domain": [-184.5, 56.5], "nice": false, "zero": false}, "axis": null}}},
       {"data": {"name": "bar"}, "transform": [{"filter": "datum.p == 'b'"}],
        "mark": {"type": "rule", "color": "#000", "strokeWidth": 0.8},
        "encoding": {"x": {"field": "t", "type": "quantitative", "scale": {"domain": [10, 120], "nice": false, "zero": false}, "axis": null}, "x2": {"field": "t2"},
         "y": {"field": "lo", "type": "quantitative", "scale": {"domain": [-184.5, 56.5], "nice": false, "zero": false}, "axis": null}}},
       {"data": {"name": "bar"}, "transform": [{"filter": "datum.p == 'b'"}],
        "mark": {"type": "text", "text": "20 gal", "align": "left", "baseline": "middle", "fontSize": 8, "font": "Liberation Sans", "dx": 2, "color": "#000"},
        "encoding": {"x": {"field": "t2", "type": "quantitative", "scale": {"domain": [10, 120], "nice": false, "zero": false}, "axis": null},
         "y": {"field": "m", "type": "quantitative", "scale": {"domain": [-184.5, 56.5], "nice": false, "zero": false}, "axis": null}}}
      ]}
   ]},
   {"width": 1, "height": 162, "data": {"values": [{}]}, "mark": {"type": "point", "opacity": 0}},
   {"bounds": "flush", "spacing": 0, "resolve": {"scale": {"color": "independent"}, "legend": {"color": "independent"}}, "hconcat": [
     {"width": 60, "height": 1, "data": {"values": [{}]}, "mark": {"type": "point", "opacity": 0}},
     {"width": 141, "height": 141, "data": {"name": "spec"}, "transform": [{"filter": "datum.p == 'a'"}],
      "resolve": {"axis": {"x": "independent", "y": "independent"}},
      "layer": [
       {"mark": {"type": "line", "strokeWidth": 1},
        "encoding": {
         "x": {"field": "f", "type": "quantitative", "scale": {"type": "log", "domain": [0.1, 20], "nice": false}, "axis": {"orient": "bottom", "values": [0.1,0.2,0.3,0.4,0.5,0.6,0.7,0.8,0.9,1,2,3,4,5,6,7,8,9,10,20], "labelExpr": "datum.value==0.1?'10⁻¹':datum.value==1?'10⁰':datum.value==10?'10¹':''", "tickSize": 2, "labelPadding": 1, "labelFontSize": 8, "labelFlush": false, "labelOverlap": false, "title": "Frequency [Hz]", "titleFontSize": 8.5, "titleFontWeight": "normal", "titlePadding": 2, "titleColor": "#43233a"}},
         "y": {"field": "v", "type": "quantitative", "scale": {"type": "log", "domain": [0.01, 100], "nice": false}, "axis": {"orient": "left", "values": [0.01,0.1,1,10,100], "labelExpr": "datum.value==0.01?'10⁻²':datum.value==0.1?'10⁻¹':datum.value==1?'10⁰':datum.value==10?'10¹':'10²'", "tickSize": 3, "labelPadding": 1, "labelFontSize": 8, "labelFlush": false, "labelOverlap": false, "title": "Spectrum [gal sec]", "titleFontSize": 8.5, "titleFontWeight": "normal", "titlePadding": 4, "titleColor": "#43233a"}},
         "color": {"field": "k", "type": "nominal", "scale": {"domain": ["Horizontal", "Vertical"], "range": ["#000", "#4550b0"]},
          "legend": {"orient": "none", "legendX": 8, "legendY": 120, "title": null, "symbolType": "stroke", "symbolStrokeWidth": 1.3, "symbolSize": 80, "labelFontSize": 8, "rowPadding": 0, "padding": 0, "labelOffset": 5, "encode": {"labels": {"update": {"fill": {"signal": "datum.value === 'Vertical' ? '#4550b0' : '#333'"}}}}}}
        }},
       {"mark": {"type": "point", "opacity": 0},
        "encoding": {
         "x": {"field": "f", "type": "quantitative", "scale": {"type": "log", "domain": [0.1, 20], "nice": false}, "axis": {"orient": "top", "values": [0.1,0.2,0.3,0.4,0.5,0.6,0.7,0.8,0.9,1,2,3,4,5,6,7,8,9,10,20], "labels": false, "tickSize": -3, "title": null}},
         "y": {"field": "v", "type": "quantitative", "scale": {"type": "log", "domain": [0.01, 100], "nice": false}, "axis": {"orient": "right", "values": [0.01,0.02,0.03,0.04,0.05,0.06,0.07,0.08,0.09,0.1,0.2,0.3,0.4,0.5,0.6,0.7,0.8,0.9,1,2,3,4,5,6,7,8,9,10,20,30,40,50,60,70,80,90,100], "labels": false, "tickSize": -2, "title": null}}
        }}
      ]},
     {"width": 110, "height": 1, "data": {"values": [{}]}, "mark": {"type": "point", "opacity": 0}},
     {"width": 144, "height": 141, "data": {"name": "spec"}, "transform": [{"filter": "datum.p == 'b'"}],
      "resolve": {"axis": {"x": "independent", "y": "independent"}},
      "layer": [
       {"mark": {"type": "line", "strokeWidth": 1},
        "encoding": {
         "x": {"field": "f", "type": "quantitative", "scale": {"type": "log", "domain": [0.1, 20], "nice": false}, "axis": {"orient": "bottom", "values": [0.1,0.2,0.3,0.4,0.5,0.6,0.7,0.8,0.9,1,2,3,4,5,6,7,8,9,10,20], "labelExpr": "datum.value==0.1?'10⁻¹':datum.value==1?'10⁰':datum.value==10?'10¹':''", "tickSize": 2, "labelPadding": 1, "labelFontSize": 8, "labelFlush": false, "labelOverlap": false, "title": "Frequency [Hz]", "titleFontSize": 8.5, "titleFontWeight": "normal", "titlePadding": 2, "titleColor": "#43233a"}},
         "y": {"field": "v", "type": "quantitative", "scale": {"type": "log", "domain": [0.01, 100], "nice": false}, "axis": {"orient": "left", "values": [0.01,0.1,1,10,100], "labelExpr": "datum.value==0.01?'10⁻²':datum.value==0.1?'10⁻¹':datum.value==1?'10⁰':datum.value==10?'10¹':'10²'", "tickSize": 3, "labelPadding": 1, "labelFontSize": 8, "labelFlush": false, "labelOverlap": false, "title": "Spectrum [gal sec]", "titleFontSize": 8.5, "titleFontWeight": "normal", "titlePadding": 4, "titleColor": "#43233a"}},
         "color": {"field": "k", "type": "nominal", "scale": {"domain": ["Horizontal", "Vertical"], "range": ["#000", "#4550b0"]},
          "legend": {"orient": "none", "legendX": 8, "legendY": 120, "title": null, "symbolType": "stroke", "symbolStrokeWidth": 1.3, "symbolSize": 80, "labelFontSize": 8, "rowPadding": 0, "padding": 0, "labelOffset": 5, "encode": {"labels": {"update": {"fill": {"signal": "datum.value === 'Vertical' ? '#4550b0' : '#333'"}}}}}}
        }},
       {"mark": {"type": "point", "opacity": 0},
        "encoding": {
         "x": {"field": "f", "type": "quantitative", "scale": {"type": "log", "domain": [0.1, 20], "nice": false}, "axis": {"orient": "top", "values": [0.1,0.2,0.3,0.4,0.5,0.6,0.7,0.8,0.9,1,2,3,4,5,6,7,8,9,10,20], "labels": false, "tickSize": -3, "title": null}},
         "y": {"field": "v", "type": "quantitative", "scale": {"type": "log", "domain": [0.01, 100], "nice": false}, "axis": {"orient": "right", "values": [0.01,0.02,0.03,0.04,0.05,0.06,0.07,0.08,0.09,0.1,0.2,0.3,0.4,0.5,0.6,0.7,0.8,0.9,1,2,3,4,5,6,7,8,9,10,20,30,40,50,60,70,80,90,100], "labels": false, "tickSize": -2, "title": null}}
        }}
      ]}
   ]},
   {"width": 1, "height": 190, "data": {"values": [{}]}, "mark": {"type": "point", "opacity": 0}},
   {"bounds": "flush", "spacing": 0, "hconcat": [
     {"width": 21, "height": 1, "data": {"values": [{}]}, "mark": {"type": "point", "opacity": 0}},
     {"width": 220, "height": 141,
      "title": {"text": "c  FKIH05 (from FKI006) 2007/3/25 M6.9", "anchor": "start", "frame": "group", "fontSize": 12.3, "fontStyle": "italic", "fontWeight": "bold", "offset": 1},
      "resolve": {"axis": {"x": "independent", "y": "independent"}},
      "layer": [
       {"data": {"name": "wave"}, "transform": [{"filter": "datum.p == 'c' && datum.c != 'UD'"}],
        "mark": {"type": "area", "fill": "#000", "fillOpacity": 0.88, "stroke": "#111", "strokeWidth": 0.6},
        "encoding": {
         "x": {"field": "t", "type": "quantitative", "scale": {"domain": [10, 120], "nice": false, "zero": false}, "axis": {"orient": "bottom", "values": [10,20,30,40,50,60,70,80,90,100,110,120], "labelExpr": "datum.value==30?'09:42:30':datum.value==60?'09:43:00':datum.value==90?'09:43:30':datum.value==120?'09:44:00':''", "tickSize": 3, "labelPadding": 1, "labelFontSize": 7.8, "labelFlush": false, "labelOverlap": false, "labelColor": "#222", "title": null}},
         "y": {"field": "h", "type": "quantitative", "stack": null, "scale": {"domain": [-184.5, 56.5], "nice": false, "zero": false}, "axis": {"orient": "left", "values": [0, -63, -126], "labels": false, "tickSize": 2, "title": null}},
         "y2": {"field": "l"},
         "detail": {"field": "c"}
        }},
       {"data": {"name": "wave"}, "transform": [{"filter": "datum.p == 'c' && datum.c == 'UD'"}],
        "mark": {"type": "area", "fill": "#3a46a6", "fillOpacity": 0.9, "stroke": "#3a46a6", "strokeWidth": 0.6},
        "encoding": {
         "x": {"field": "t", "type": "quantitative", "scale": {"domain": [10, 120], "nice": false, "zero": false}, "axis": null},
         "y": {"field": "h", "type": "quantitative", "stack": null, "scale": {"domain": [-184.5, 56.5], "nice": false, "zero": false}, "axis": null},
         "y2": {"field": "l"}
        }},
       {"data": {"name": "vl"}, "transform": [{"filter": "datum.p == 'c'"}],
        "mark": {"type": "rule", "color": "#000", "strokeWidth": 1},
        "encoding": {"x": {"field": "t", "type": "quantitative", "scale": {"domain": [10, 120], "nice": false, "zero": false}, "axis": {"orient": "top", "values": [10,20,30,40,50,60,70,80,90,100,110,120], "labels": false, "tickSize": 3, "title": null}}}},
       {"data": {"name": "bar"}, "transform": [{"filter": "datum.p == 'c'"}],
        "mark": {"type": "rule", "color": "#000", "strokeWidth": 0.8},
        "encoding": {"x": {"field": "t", "type": "quantitative", "scale": {"domain": [10, 120], "nice": false, "zero": false}, "axis": null},
         "y": {"field": "lo", "type": "quantitative", "scale": {"domain": [-184.5, 56.5], "nice": false, "zero": false}, "axis": {"orient": "right", "values": [0, -63, -126], "ticks": false, "labelExpr": "datum.value==0?'NS':datum.value==-63?'EW':'UD'", "labelPadding": 1, "labelFontSize": 8, "labelColor": "#1c2a80", "labelFlush": false, "title": null}},
         "y2": {"field": "hi"}}},
       {"data": {"name": "bar"}, "transform": [{"filter": "datum.p == 'c'"}],
        "mark": {"type": "rule", "color": "#000", "strokeWidth": 0.8},
        "encoding": {"x": {"field": "t", "type": "quantitative", "scale": {"domain": [10, 120], "nice": false, "zero": false}, "axis": null}, "x2": {"field": "t2"},
         "y": {"field": "hi", "type": "quantitative", "scale": {"domain": [-184.5, 56.5], "nice": false, "zero": false}, "axis": null}}},
       {"data": {"name": "bar"}, "transform": [{"filter": "datum.p == 'c'"}],
        "mark": {"type": "rule", "color": "#000", "strokeWidth": 0.8},
        "encoding": {"x": {"field": "t", "type": "quantitative", "scale": {"domain": [10, 120], "nice": false, "zero": false}, "axis": null}, "x2": {"field": "t2"},
         "y": {"field": "lo", "type": "quantitative", "scale": {"domain": [-184.5, 56.5], "nice": false, "zero": false}, "axis": null}}},
       {"data": {"name": "bar"}, "transform": [{"filter": "datum.p == 'c'"}],
        "mark": {"type": "text", "text": "20 gal", "align": "left", "baseline": "middle", "fontSize": 8, "font": "Liberation Sans", "dx": 2, "color": "#000"},
        "encoding": {"x": {"field": "t2", "type": "quantitative", "scale": {"domain": [10, 120], "nice": false, "zero": false}, "axis": null},
         "y": {"field": "m", "type": "quantitative", "scale": {"domain": [-184.5, 56.5], "nice": false, "zero": false}, "axis": null}}}
      ]}
   ]},
   {"width": 1, "height": 165, "data": {"values": [{}]}, "mark": {"type": "point", "opacity": 0}},
   {"bounds": "flush", "spacing": 0, "resolve": {"scale": {"color": "independent"}, "legend": {"color": "independent"}}, "hconcat": [
     {"width": 60, "height": 1, "data": {"values": [{}]}, "mark": {"type": "point", "opacity": 0}},
     {"width": 141, "height": 141, "data": {"name": "spec"}, "transform": [{"filter": "datum.p == 'c'"}],
      "resolve": {"axis": {"x": "independent", "y": "independent"}},
      "layer": [
       {"mark": {"type": "line", "strokeWidth": 1},
        "encoding": {
         "x": {"field": "f", "type": "quantitative", "scale": {"type": "log", "domain": [0.1, 20], "nice": false}, "axis": {"orient": "bottom", "values": [0.1,0.2,0.3,0.4,0.5,0.6,0.7,0.8,0.9,1,2,3,4,5,6,7,8,9,10,20], "labelExpr": "datum.value==0.1?'10⁻¹':datum.value==1?'10⁰':datum.value==10?'10¹':''", "tickSize": 2, "labelPadding": 1, "labelFontSize": 8, "labelFlush": false, "labelOverlap": false, "title": "Frequency [Hz]", "titleFontSize": 8.5, "titleFontWeight": "normal", "titlePadding": 2, "titleColor": "#43233a"}},
         "y": {"field": "v", "type": "quantitative", "scale": {"type": "log", "domain": [0.01, 100], "nice": false}, "axis": {"orient": "left", "values": [0.01,0.1,1,10,100], "labelExpr": "datum.value==0.01?'10⁻²':datum.value==0.1?'10⁻¹':datum.value==1?'10⁰':datum.value==10?'10¹':'10²'", "tickSize": 3, "labelPadding": 1, "labelFontSize": 8, "labelFlush": false, "labelOverlap": false, "title": "Spectrum [gal sec]", "titleFontSize": 8.5, "titleFontWeight": "normal", "titlePadding": 4, "titleColor": "#43233a"}},
         "color": {"field": "k", "type": "nominal", "scale": {"domain": ["Horizontal", "Vertical"], "range": ["#000", "#4550b0"]},
          "legend": {"orient": "none", "legendX": 8, "legendY": 120, "title": null, "symbolType": "stroke", "symbolStrokeWidth": 1.3, "symbolSize": 80, "labelFontSize": 8, "rowPadding": 0, "padding": 0, "labelOffset": 5, "encode": {"labels": {"update": {"fill": {"signal": "datum.value === 'Vertical' ? '#4550b0' : '#333'"}}}}}}
        }},
       {"mark": {"type": "point", "opacity": 0},
        "encoding": {
         "x": {"field": "f", "type": "quantitative", "scale": {"type": "log", "domain": [0.1, 20], "nice": false}, "axis": {"orient": "top", "values": [0.1,0.2,0.3,0.4,0.5,0.6,0.7,0.8,0.9,1,2,3,4,5,6,7,8,9,10,20], "labels": false, "tickSize": -3, "title": null}},
         "y": {"field": "v", "type": "quantitative", "scale": {"type": "log", "domain": [0.01, 100], "nice": false}, "axis": {"orient": "right", "values": [0.01,0.02,0.03,0.04,0.05,0.06,0.07,0.08,0.09,0.1,0.2,0.3,0.4,0.5,0.6,0.7,0.8,0.9,1,2,3,4,5,6,7,8,9,10,20,30,40,50,60,70,80,90,100], "labels": false, "tickSize": -2, "title": null}}
        }}
      ]}
   ]}
  ]
 }
]
}
